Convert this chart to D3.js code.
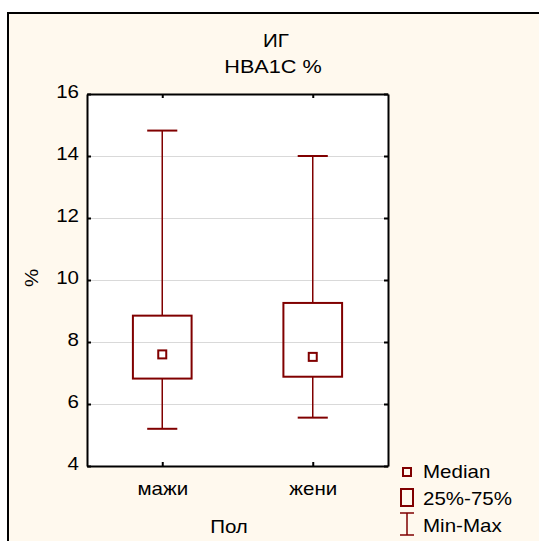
<!DOCTYPE html>
<html>
<head>
<meta charset="utf-8">
<script src="https://cdn.jsdelivr.net/npm/d3@7"></script>
<style>
  html, body { margin: 0; padding: 0; background: #fff; }
  svg { display: block; }
  text { font-family: "Liberation Sans", Arial, sans-serif; font-size: 18px; fill: #000; }
</style>
</head>
<body>
<svg id="chart" width="539" height="541"></svg>
<script>
// box plot values (HbA1c %, by sex)
const categories = ['мажи', 'жени'];
const minVals = [5.2, 5.56];
const q1Vals = [6.82, 6.88];
const medianVals = [7.6, 7.52];
const q3Vals = [8.85, 9.26];
const maxVals = [14.82, 14.0];
const yTicks = [4, 6, 8, 10, 12, 14, 16];

const titleLines = ['ИГ', 'HBA1C %'];
const legendItems = ['Median', '25%-75%', 'Min-Max'];

const W = 539, H = 541;
const plot = { left: 87, right: 388, top: 94, bottom: 466 };
const RED = '#800000';
const STRETCH = 1.14; // Statistica's Arial renders a little wide

const svg = d3.select('#chart');

// ── frame: cream panel with black top/left edge
svg.append('rect').attr('x', 8).attr('y', 13).attr('width', W - 8).attr('height', H - 13).attr('fill', '#fff9ee');
svg.append('path').attr('d', `M8,${H} V13 H${W}`).attr('fill', 'none').attr('stroke', '#000').attr('stroke-width', 2);

function label(txt, x, y, anchor, rot) {
  return svg.append('text')
    .attr('transform', `translate(${x},${y}) rotate(${rot || 0}) scale(${STRETCH},1)`)
    .attr('text-anchor', anchor || 'middle')
    .text(txt);
}

// title
label(titleLines[0], 276, 47, 'middle');
label(titleLines[1], 273, 73, 'middle').style('font-size', '19px');

const x = d3.scalePoint().domain(categories).range([plot.left, plot.right]).padding(0.5);
const y = d3.scaleLinear().domain([4, 16]).range([plot.bottom, plot.top]);
const pw = plot.right - plot.left;

svg.append('rect')
  .attr('x', plot.left).attr('y', plot.top)
  .attr('width', pw).attr('height', plot.bottom - plot.top)
  .attr('fill', '#fff');

// gridlines
svg.append('g').attr('transform', `translate(${plot.left},0)`)
  .call(d3.axisLeft(y).tickValues(yTicks.slice(1, -1)).tickSize(-pw).tickFormat(''))
  .call((g) => { g.select('.domain').remove(); g.selectAll('line').attr('stroke', '#d9d9d9').attr('stroke-width', 1); });

// axes: ticks point inward, all four sides
function styleAxis(g) {
  g.select('.domain').attr('stroke', '#000').attr('stroke-width', 2);
  g.selectAll('.tick line').attr('stroke', '#000').attr('stroke-width', 2);
  g.selectAll('text').attr('font-family', null).attr('font-size', null)
    .attr('transform', `scale(${STRETCH},1)`);
}
svg.append('g').attr('transform', `translate(${plot.left},0)`)
  .call(d3.axisLeft(y).tickValues(yTicks).tickSizeInner(-4).tickSizeOuter(0).tickPadding(7))
  .call(styleAxis)
  .call((g) => g.selectAll('text').attr('dy', '0.22em'));
svg.append('g').attr('transform', `translate(${plot.right},0)`)
  .call(d3.axisRight(y).tickValues(yTicks).tickSizeInner(-4).tickSizeOuter(0).tickFormat(''))
  .call(styleAxis);
svg.append('g').attr('transform', `translate(0,${plot.bottom})`)
  .call(d3.axisBottom(x).tickSizeInner(-4).tickSizeOuter(0).tickPadding(16))
  .call(styleAxis);
svg.append('g').attr('transform', `translate(0,${plot.top})`)
  .call(d3.axisTop(x).tickSizeInner(-4).tickSizeOuter(0).tickFormat(''))
  .call(styleAxis);

// axis titles
label('Пол', 229, 533, 'middle');
label('%', 38, (plot.top + plot.bottom) / 2 - 2, 'middle', -90);

// ── boxes
const step = x.step();
const boxW = step * 0.39, capW = step * 0.2, medS = 8;
const boxes = svg.append('g').selectAll('g').data(categories).enter().append('g');

boxes.append('line')
  .attr('x1', (d) => x(d)).attr('x2', (d) => x(d))
  .attr('y1', (d, i) => y(maxVals[i])).attr('y2', (d, i) => y(q3Vals[i]))
  .attr('stroke', RED).attr('stroke-width', 1.5);
boxes.append('line')
  .attr('x1', (d) => x(d)).attr('x2', (d) => x(d))
  .attr('y1', (d, i) => y(q1Vals[i])).attr('y2', (d, i) => y(minVals[i]))
  .attr('stroke', RED).attr('stroke-width', 1.5);
[maxVals, minVals].forEach((vals) => {
  boxes.append('line')
    .attr('x1', (d) => x(d) - capW / 2).attr('x2', (d) => x(d) + capW / 2)
    .attr('y1', (d, i) => y(vals[i])).attr('y2', (d, i) => y(vals[i]))
    .attr('stroke', RED).attr('stroke-width', 2);
});
boxes.append('rect')
  .attr('x', (d) => x(d) - boxW / 2).attr('width', boxW)
  .attr('y', (d, i) => y(q3Vals[i])).attr('height', (d, i) => y(q1Vals[i]) - y(q3Vals[i]))
  .attr('fill', 'none').attr('stroke', RED).attr('stroke-width', 2);
boxes.append('rect')
  .attr('x', (d) => x(d) - medS / 2).attr('width', medS)
  .attr('y', (d, i) => y(medianVals[i]) - medS / 2).attr('height', medS)
  .attr('fill', 'none').attr('stroke', RED).attr('stroke-width', 2);

// ── legend
const lg = svg.append('g');
const lx = 407;
lg.append('rect').attr('x', lx - 4).attr('y', 468).attr('width', 8).attr('height', 8)
  .attr('fill', 'none').attr('stroke', RED).attr('stroke-width', 2);
lg.append('rect').attr('x', lx - 6).attr('y', 489).attr('width', 12).attr('height', 17)
  .attr('fill', 'none').attr('stroke', RED).attr('stroke-width', 2);
lg.append('path').attr('d', `M${lx},513 V535 M${lx - 7},513 H${lx + 7} M${lx - 7},535 H${lx + 7}`)
  .attr('fill', 'none').attr('stroke', RED).attr('stroke-width', 1.5);
legendItems.forEach((t, i) => label(t, 423, 478 + i * 27, 'start'));
</script>
</body>
</html>
